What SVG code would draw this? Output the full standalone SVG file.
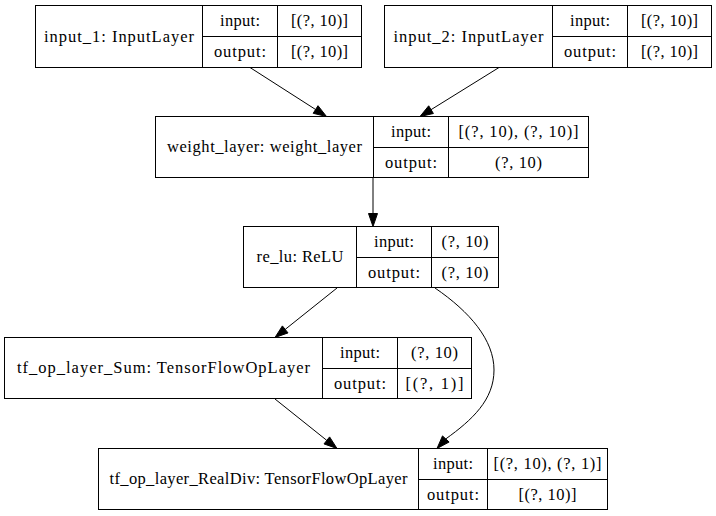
<svg xmlns="http://www.w3.org/2000/svg" width="716" height="516" viewBox="0 0 716 516">
<style>
.box{fill:#fff;stroke:#000;stroke-width:1}
.ln{stroke:#000;stroke-width:1;fill:none}
text{font-family:"Liberation Serif","Times New Roman",serif;font-size:16.5px;fill:#000;text-anchor:middle}
.edge{stroke:#000;stroke-width:1;fill:none}
.head{fill:#000;stroke:#000;stroke-width:1}
</style>
<rect width="716" height="516" fill="#fff"/>
<g id="input_1">
<rect class="box" x="35.5" y="5.5" width="326" height="62"/>
<path class="ln" d="M202.5,5.5V67.5M277.5,5.5V67.5M202.5,36.5H361.5"/>
<text x="119" y="41.5" textLength="150" lengthAdjust="spacing">input_1: InputLayer</text>
<text x="240" y="26" textLength="40" lengthAdjust="spacing">input:</text>
<text x="240" y="57" textLength="52" lengthAdjust="spacing">output:</text>
<text x="319.5" y="26" textLength="57" lengthAdjust="spacing">[(?, 10)]</text>
<text x="319.5" y="57" textLength="57" lengthAdjust="spacing">[(?, 10)]</text>
</g>
<g id="input_2">
<rect class="box" x="384.5" y="5.5" width="327" height="62"/>
<path class="ln" d="M552.5,5.5V67.5M627.5,5.5V67.5M552.5,36.5H711.5"/>
<text x="468.5" y="41.5" textLength="150" lengthAdjust="spacing">input_2: InputLayer</text>
<text x="590" y="26" textLength="40" lengthAdjust="spacing">input:</text>
<text x="590" y="57" textLength="52" lengthAdjust="spacing">output:</text>
<text x="669.5" y="26" textLength="57" lengthAdjust="spacing">[(?, 10)]</text>
<text x="669.5" y="57" textLength="57" lengthAdjust="spacing">[(?, 10)]</text>
</g>
<g id="weight_layer">
<rect class="box" x="155.5" y="116.5" width="433" height="61"/>
<path class="ln" d="M373.5,116.5V177.5M448.5,116.5V177.5M373.5,147.5H588.5"/>
<text x="264.5" y="152" textLength="195" lengthAdjust="spacing">weight_layer: weight_layer</text>
<text x="411" y="137" textLength="40" lengthAdjust="spacing">input:</text>
<text x="411" y="167.5" textLength="52" lengthAdjust="spacing">output:</text>
<text x="518.5" y="137" textLength="120" lengthAdjust="spacing">[(?, 10), (?, 10)]</text>
<text x="518.5" y="167.5" textLength="47" lengthAdjust="spacing">(?, 10)</text>
</g>
<g id="re_lu">
<rect class="box" x="243.5" y="226.5" width="255" height="61"/>
<path class="ln" d="M356.5,226.5V287.5M431.5,226.5V287.5M356.5,257.5H498.5"/>
<text x="300" y="262" textLength="87" lengthAdjust="spacing">re_lu: ReLU</text>
<text x="394" y="247" textLength="40" lengthAdjust="spacing">input:</text>
<text x="394" y="277.5" textLength="52" lengthAdjust="spacing">output:</text>
<text x="465" y="247" textLength="47" lengthAdjust="spacing">(?, 10)</text>
<text x="465" y="277.5" textLength="47" lengthAdjust="spacing">(?, 10)</text>
</g>
<g id="tf_op_layer_Sum">
<rect class="box" x="4.5" y="337.5" width="467" height="61"/>
<path class="ln" d="M322.5,337.5V398.5M397.5,337.5V398.5M322.5,368.5H471.5"/>
<text x="163.5" y="373" textLength="293" lengthAdjust="spacing">tf_op_layer_Sum: TensorFlowOpLayer</text>
<text x="360" y="358" textLength="40" lengthAdjust="spacing">input:</text>
<text x="360" y="388.5" textLength="52" lengthAdjust="spacing">output:</text>
<text x="434.5" y="358" textLength="47" lengthAdjust="spacing">(?, 10)</text>
<text x="434.5" y="388.5" textLength="58" lengthAdjust="spacing">[(?, 1)]</text>
</g>
<g id="tf_op_layer_RealDiv">
<rect class="box" x="98.5" y="448.5" width="509" height="61"/>
<path class="ln" d="M418.5,448.5V509.5M487.5,448.5V509.5M418.5,479.5H607.5"/>
<text x="258.5" y="484" textLength="298" lengthAdjust="spacing">tf_op_layer_RealDiv: TensorFlowOpLayer</text>
<text x="453" y="469" textLength="40" lengthAdjust="spacing">input:</text>
<text x="453" y="499.5" textLength="52" lengthAdjust="spacing">output:</text>
<text x="547.5" y="469" textLength="108" lengthAdjust="spacing">[(?, 10), (?, 1)]</text>
<text x="547.5" y="499.5" textLength="58" lengthAdjust="spacing">[(?, 10)]</text>
</g>
<g id="connectors">
<path class="edge" d="M250,67.5L315.6,109.5"/>
<polygon class="head" points="326.5,116.5 313.2,113.3 318.0,105.7"/>
<path class="edge" d="M499,67.5L431,109.7"/>
<polygon class="head" points="420,116.5 428.7,105.8 433.4,113.5"/>
<path class="edge" d="M373,177.5V213.5"/>
<polygon class="head" points="373,226.5 368.5,213.5 377.5,213.5"/>
<path class="edge" d="M337,288L285.2,329.4"/>
<polygon class="head" points="275,337.5 282.4,325.9 288.0,332.9"/>
<path class="edge" d="M275,399L326.8,440.4"/>
<polygon class="head" points="337,448.5 324.0,443.9 329.6,436.9"/>
<path class="edge" d="M435,288C470,312 494,340 494,370C494,400 472,420 445.8,438.9"/>
<polygon class="head" points="437,448.5 442.5,435.9 449.1,442.0"/>
</g>
</svg>
